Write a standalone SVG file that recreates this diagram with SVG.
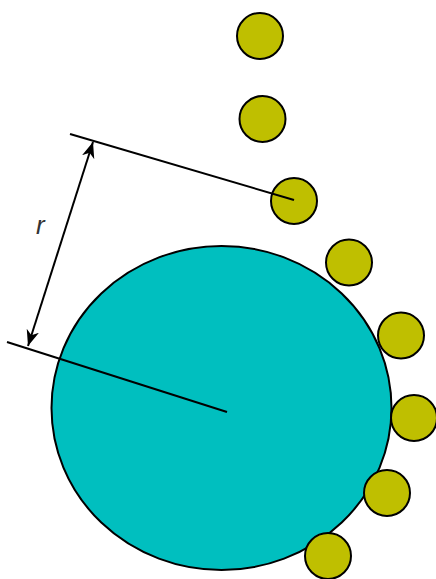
<svg xmlns="http://www.w3.org/2000/svg" width="436" height="579" viewBox="0 0 436 579">
<style>
.big{fill:#00BFBF;stroke:#000;stroke-width:2}
.sm{fill:#BFBF00;stroke:#000;stroke-width:2}
.ln{stroke:#000;stroke-width:2;fill:none}
.lbl{font-family:"Liberation Sans",Arial,sans-serif;font-style:italic;font-size:26px;fill:#333}
</style>
<defs>
<marker id="ah" viewBox="0 0 10 10" refX="10" refY="5" markerWidth="16" markerHeight="16" orient="auto-start-reverse" markerUnits="userSpaceOnUse">
<path d="M0,1 L10,5 L0,9 L3,5 Z" fill="#000"/>
</marker>
</defs>
<rect width="436" height="579" fill="#fff"/>
<g id="core"><ellipse class="big" cx="221.5" cy="408" rx="170" ry="162"/></g>
<g id="p1"><circle class="sm" cx="260" cy="36" r="23"/></g>
<g id="p2"><circle class="sm" cx="262.5" cy="119" r="23"/></g>
<g id="p3"><circle class="sm" cx="294" cy="201" r="23"/></g>
<g id="p4"><circle class="sm" cx="349" cy="262.5" r="23"/></g>
<g id="p5"><circle class="sm" cx="401" cy="335.5" r="23"/></g>
<g id="p6"><circle class="sm" cx="414" cy="418" r="23"/></g>
<g id="p7"><circle class="sm" cx="387" cy="493" r="23"/></g>
<g id="p8"><circle class="sm" cx="328" cy="556" r="23"/></g>
<g id="connectors">
<line class="ln" x1="70" y1="134" x2="294" y2="200"/>
<line class="ln" x1="7" y1="342" x2="227" y2="412"/>
<line class="ln" x1="93" y1="142" x2="28" y2="346" marker-start="url(#ah)" marker-end="url(#ah)"/>
</g>
<text class="lbl" x="36" y="234">r</text>
</svg>
